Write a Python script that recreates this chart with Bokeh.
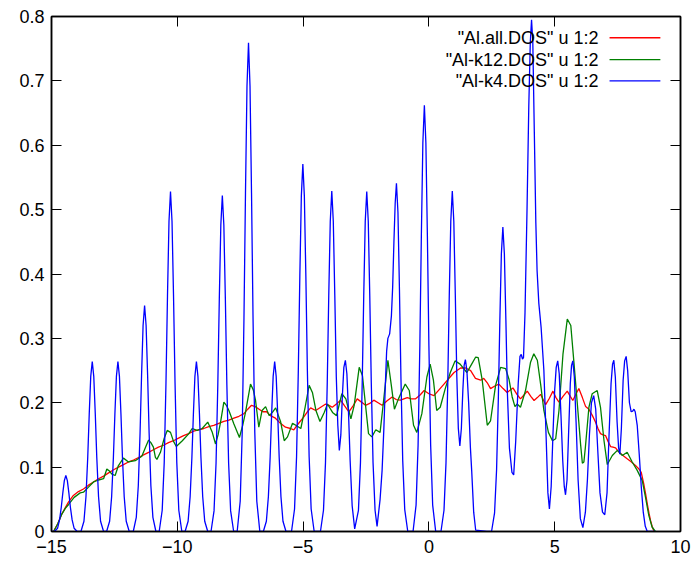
from bokeh.plotting import figure
from bokeh.models import Range1d, FixedTicker, LinearAxis, Label, Arrow
from bokeh.embed import file_html
from bokeh.resources import INLINE

# ---- data ----
series_names = ['"Al.all.DOS" u 1:2', '"Al-k12.DOS" u 1:2', '"Al-k4.DOS" u 1:2']
x_ticks = [-15, -10, -5, 0, 5, 10]
y_ticks = [0, 0.1, 0.2, 0.3, 0.4, 0.5, 0.6, 0.7, 0.8]
y_tick_labels = ["0", "0.1", "0.2", "0.3", "0.4", "0.5", "0.6", "0.7", "0.8"]

red_pts = [
    (-14.92, 0), (-14.75, 0.012), (-14.59, 0.027), (-14.45, 0.037), (-14.32, 0.046), (-14.13, 0.056),
    (-13.93, 0.062), (-13.73, 0.066), (-13.53, 0.072), (-13.33, 0.077), (-13.13, 0.082), (-12.93, 0.086),
    (-12.73, 0.091), (-12.53, 0.096), (-12.34, 0.100), (-12.14, 0.104), (-11.94, 0.108), (-11.74, 0.111),
    (-11.54, 0.115), (-11.34, 0.119), (-11.14, 0.123), (-10.95, 0.127), (-10.75, 0.131), (-10.55, 0.134),
    (-10.35, 0.138), (-10.15, 0.141), (-9.95, 0.145), (-9.75, 0.149), (-9.55, 0.152), (-9.35, 0.156),
    (-9.15, 0.158), (-8.95, 0.160), (-8.75, 0.163), (-8.55, 0.165), (-8.35, 0.168), (-8.15, 0.171),
    (-7.95, 0.173), (-7.75, 0.176), (-7.55, 0.179), (-7.35, 0.183), (-7.2, 0.19), (-7.05, 0.196),
    (-6.9, 0.194), (-6.75, 0.19), (-6.6, 0.186), (-6.45, 0.186), (-6.3, 0.18), (-6.1, 0.176),
    (-5.9, 0.168), (-5.7, 0.162), (-5.5, 0.160), (-5.37, 0.158), (-5.2, 0.167), (-4.97, 0.178),
    (-4.83, 0.186), (-4.7, 0.192), (-4.5, 0.188), (-4.3, 0.193), (-4.1, 0.198), (-3.97, 0.196),
    (-3.84, 0.193), (-3.65, 0.199), (-3.51, 0.204), (-3.35, 0.195), (-3.18, 0.186), (-3.0, 0.196),
    (-2.85, 0.206), (-2.68, 0.201), (-2.52, 0.196), (-2.35, 0.199), (-2.19, 0.204), (-2.02, 0.200),
    (-1.86, 0.196), (-1.66, 0.203), (-1.46, 0.209), (-1.3, 0.205), (-1.13, 0.204), (-0.86, 0.208),
    (-0.7, 0.206), (-0.54, 0.206), (-0.35, 0.212), (-0.19, 0.219), (0.0, 0.214), (0.2, 0.211),
    (0.4, 0.22), (0.6, 0.229), (0.8, 0.238), (1.0, 0.247), (1.26, 0.254), (1.46, 0.254),
    (1.66, 0.25), (1.85, 0.238), (2.06, 0.235), (2.18, 0.238), (2.32, 0.231), (2.45, 0.222),
    (2.62, 0.226), (2.78, 0.229), (2.95, 0.222), (3.11, 0.216), (3.34, 0.223), (3.5, 0.213),
    (3.64, 0.206), (3.78, 0.212), (3.91, 0.218), (4.05, 0.21), (4.18, 0.2035), (4.31, 0.208),
    (4.44, 0.213), (4.54, 0.205), (4.64, 0.197), (4.79, 0.207), (4.93, 0.218), (5.05, 0.208),
    (5.17, 0.201), (5.33, 0.21), (5.5, 0.218), (5.62, 0.21), (5.72, 0.2035), (5.85, 0.214),
    (5.96, 0.222), (6.1, 0.208), (6.23, 0.194), (6.36, 0.19), (6.5, 0.18), (6.62, 0.17),
    (6.72, 0.16), (6.82, 0.152), (6.92, 0.15), (7.02, 0.149), (7.12, 0.14), (7.22, 0.132),
    (7.32, 0.131), (7.42, 0.13), (7.52, 0.125), (7.62, 0.121), (7.75, 0.117), (7.88, 0.113),
    (8.05, 0.108), (8.21, 0.1025), (8.35, 0.097), (8.44, 0.092), (8.54, 0.074), (8.62, 0.057),
    (8.68, 0.043), (8.75, 0.028), (8.81, 0.017), (8.88, 0.007), (8.95, 0.0),
]

green_pts = [
    (-14.92, 0), (-14.75, 0.012), (-14.59, 0.027), (-14.45, 0.036), (-14.32, 0.042), (-14.1, 0.053),
    (-13.86, 0.06), (-13.73, 0.061), (-13.53, 0.069), (-13.33, 0.077), (-13.13, 0.08), (-12.93, 0.082),
    (-12.8, 0.097), (-12.7, 0.094), (-12.6, 0.089), (-12.47, 0.087), (-12.34, 0.1025), (-12.14, 0.114),
    (-11.94, 0.108), (-11.67, 0.11), (-11.41, 0.117), (-11.25, 0.132), (-11.14, 0.142), (-11.05, 0.138),
    (-10.95, 0.131), (-10.87, 0.115), (-10.81, 0.112), (-10.67, 0.123), (-10.52, 0.145), (-10.4, 0.157),
    (-10.27, 0.154), (-10.15, 0.14), (-10.04, 0.132), (-9.8, 0.141), (-9.54, 0.152), (-9.41, 0.16),
    (-9.21, 0.157), (-9.01, 0.16), (-8.79, 0.17), (-8.61, 0.154), (-8.48, 0.136), (-8.38, 0.15),
    (-8.28, 0.17), (-8.15, 0.201), (-8.05, 0.196), (-7.95, 0.188), (-7.75, 0.167), (-7.53, 0.146),
    (-7.4, 0.165), (-7.29, 0.185), (-7.09, 0.229), (-6.98, 0.22), (-6.89, 0.2035), (-6.76, 0.162),
    (-6.63, 0.188), (-6.49, 0.194), (-6.35, 0.18), (-6.22, 0.185), (-6.09, 0.192), (-5.89, 0.17),
    (-5.75, 0.141), (-5.62, 0.147), (-5.42, 0.168), (-5.29, 0.165), (-5.09, 0.16), (-4.92, 0.193),
    (-4.76, 0.227), (-4.63, 0.216), (-4.49, 0.188), (-4.33, 0.171), (-4.16, 0.185), (-4.03, 0.198),
    (-3.83, 0.185), (-3.67, 0.18), (-3.46, 0.214), (-3.3, 0.206), (-3.1, 0.175), (-2.97, 0.196),
    (-2.77, 0.255), (-2.64, 0.242), (-2.51, 0.193), (-2.4, 0.152), (-2.27, 0.147), (-2.11, 0.158),
    (-1.94, 0.154), (-1.8, 0.2035), (-1.63, 0.266), (-1.5, 0.229), (-1.37, 0.19), (-1.21, 0.206),
    (-0.94, 0.229), (-0.78, 0.219), (-0.61, 0.165), (-0.48, 0.154), (-0.28, 0.183), (-0.08, 0.24),
    (0.05, 0.26), (0.18, 0.235), (0.31, 0.188), (0.45, 0.193), (0.65, 0.222), (0.85, 0.247),
    (1.04, 0.265), (1.24, 0.26), (1.51, 0.247), (1.7, 0.26), (1.86, 0.271), (1.96, 0.27),
    (2.12, 0.235), (2.32, 0.165), (2.45, 0.172), (2.65, 0.227), (2.85, 0.255), (3.05, 0.253),
    (3.18, 0.237), (3.31, 0.209), (3.42, 0.194), (3.51, 0.198), (3.64, 0.193), (3.84, 0.219),
    (4.04, 0.263), (4.17, 0.276), (4.31, 0.266), (4.44, 0.229), (4.57, 0.188), (4.75, 0.154),
    (4.91, 0.141), (5.04, 0.144), (5.17, 0.188), (5.33, 0.276), (5.5, 0.33), (5.64, 0.32),
    (5.77, 0.26), (5.9, 0.198), (6.03, 0.135), (6.1, 0.106), (6.16, 0.108), (6.22, 0.131),
    (6.36, 0.193), (6.49, 0.214), (6.69, 0.219), (6.82, 0.193), (6.96, 0.141), (7.09, 0.104),
    (7.29, 0.118), (7.49, 0.126), (7.69, 0.118), (7.88, 0.123), (8.08, 0.108), (8.28, 0.095),
    (8.48, 0.079), (8.61, 0.053), (8.74, 0.025), (8.87, 0.007), (9.0, 0),
]

blue_pts = [
    (-15.0, 0), (-14.88, 0), (-14.76, 0.005), (-14.68, 0.018), (-14.61, 0.038), (-14.55, 0.06),
    (-14.49, 0.079), (-14.43, 0.087), (-14.37, 0.079), (-14.31, 0.06), (-14.25, 0.038), (-14.18, 0.018),
    (-14.1, 0.005), (-13.98, 0),
    (-13.83, 0), (-13.71, 0.016), (-13.63, 0.054), (-13.56, 0.115), (-13.50, 0.183), (-13.44, 0.241),
    (-13.38, 0.264), (-13.32, 0.241), (-13.26, 0.183), (-13.20, 0.115), (-13.13, 0.054), (-13.05, 0.016),
    (-12.93, 0),
    (-12.81, 0), (-12.69, 0.016), (-12.61, 0.054), (-12.54, 0.115), (-12.48, 0.183), (-12.42, 0.241),
    (-12.36, 0.264), (-12.30, 0.241), (-12.24, 0.183), (-12.18, 0.115), (-12.11, 0.054), (-12.03, 0.016),
    (-11.91, 0),
    (-11.75, 0), (-11.63, 0.022), (-11.55, 0.071), (-11.48, 0.153), (-11.42, 0.243), (-11.36, 0.320),
    (-11.30, 0.351), (-11.24, 0.320), (-11.18, 0.243), (-11.12, 0.153), (-11.05, 0.071), (-10.97, 0.022),
    (-10.85, 0),
    (-10.72, 0), (-10.60, 0.033), (-10.52, 0.107), (-10.45, 0.231), (-10.39, 0.366), (-10.33, 0.482),
    (-10.27, 0.528), (-10.21, 0.482), (-10.15, 0.366), (-10.09, 0.231), (-10.02, 0.107), (-9.94, 0.033),
    (-9.82, 0),
    (-9.69, 0), (-9.57, 0.016), (-9.49, 0.054), (-9.42, 0.115), (-9.36, 0.183), (-9.30, 0.241),
    (-9.24, 0.264), (-9.18, 0.241), (-9.12, 0.183), (-9.06, 0.115), (-8.99, 0.054), (-8.91, 0.016),
    (-8.79, 0),
    (-8.66, 0), (-8.54, 0.032), (-8.46, 0.106), (-8.39, 0.228), (-8.33, 0.362), (-8.27, 0.476),
    (-8.21, 0.522), (-8.15, 0.476), (-8.09, 0.362), (-8.03, 0.228), (-7.96, 0.106), (-7.88, 0.032),
    (-7.76, 0),
    (-7.62, 0), (-7.50, 0.047), (-7.42, 0.154), (-7.35, 0.332), (-7.29, 0.526), (-7.23, 0.692),
    (-7.17, 0.759), (-7.11, 0.692), (-7.05, 0.526), (-6.99, 0.332), (-6.92, 0.154), (-6.84, 0.047),
    (-6.72, 0),
    (-6.58, 0), (-6.46, 0.016), (-6.38, 0.054), (-6.31, 0.115), (-6.25, 0.183), (-6.19, 0.241),
    (-6.13, 0.264), (-6.07, 0.241), (-6.01, 0.183), (-5.95, 0.115), (-5.88, 0.054), (-5.80, 0.016),
    (-5.68, 0),
    (-5.46, 0), (-5.34, 0.035), (-5.26, 0.116), (-5.19, 0.250), (-5.13, 0.396), (-5.07, 0.521),
    (-5.01, 0.571), (-4.95, 0.521), (-4.89, 0.396), (-4.83, 0.250), (-4.76, 0.116), (-4.68, 0.035),
    (-4.56, 0),
    (-4.31, 0), (-4.19, 0.033), (-4.11, 0.107), (-4.04, 0.231), (-3.98, 0.367), (-3.92, 0.482),
    (-3.86, 0.529), (-3.80, 0.482), (-3.74, 0.367), (-3.68, 0.24), (-3.62, 0.165), (-3.56, 0.126),
    (-3.50, 0.15), (-3.44, 0.21), (-3.38, 0.255), (-3.32, 0.266), (-3.26, 0.245), (-3.20, 0.19),
    (-3.13, 0.11), (-3.05, 0.04), (-2.95, 0.004),
    (-2.80, 0.033), (-2.72, 0.107), (-2.65, 0.231), (-2.59, 0.366), (-2.53, 0.482), (-2.47, 0.528),
    (-2.41, 0.482), (-2.35, 0.366), (-2.29, 0.231), (-2.22, 0.107), (-2.14, 0.033), (-2.06, 0.008),
    (-1.94, 0.05), (-1.86, 0.095), (-1.79, 0.16), (-1.73, 0.229), (-1.68, 0.28), (-1.63, 0.30),
    (-1.56, 0.307), (-1.49, 0.335), (-1.44, 0.38), (-1.39, 0.45), (-1.34, 0.51), (-1.29, 0.541),
    (-1.23, 0.496), (-1.17, 0.375), (-1.11, 0.236), (-1.04, 0.11), (-0.96, 0.034), (-0.84, 0),
    (-0.63, 0), (-0.51, 0.041), (-0.43, 0.134), (-0.36, 0.289), (-0.30, 0.459), (-0.24, 0.604),
    (-0.18, 0.662), (-0.12, 0.604), (-0.06, 0.459), (0.00, 0.289), (0.07, 0.134), (0.15, 0.041),
    (0.27, 0),
    (0.48, 0), (0.60, 0.033), (0.68, 0.107), (0.75, 0.231), (0.81, 0.367), (0.87, 0.482),
    (0.93, 0.529), (0.99, 0.482), (1.05, 0.367), (1.11, 0.24), (1.17, 0.16), (1.23, 0.133),
    (1.29, 0.16), (1.35, 0.22), (1.40, 0.258), (1.45, 0.267), (1.51, 0.25), (1.58, 0.2),
    (1.65, 0.13), (1.70, 0.095), (1.78, 0.03), (1.86, 0.002), (2.30, 0),
    (2.49, 0), (2.61, 0.029), (2.69, 0.096), (2.76, 0.207), (2.82, 0.328), (2.88, 0.431),
    (2.94, 0.473), (3.00, 0.431), (3.06, 0.328), (3.12, 0.215), (3.20, 0.13), (3.30, 0.092),
    (3.37, 0.088), (3.45, 0.14), (3.55, 0.23), (3.62, 0.272), (3.67, 0.275), (3.72, 0.268),
    (3.76, 0.27), (3.82, 0.34), (3.90, 0.5), (3.97, 0.66), (4.03, 0.76), (4.08, 0.795),
    (4.13, 0.76), (4.19, 0.62), (4.25, 0.48), (4.30, 0.405), (4.37, 0.354), (4.46, 0.317),
    (4.57, 0.25), (4.66, 0.146), (4.73, 0.06), (4.79, 0.035), (4.86, 0.07), (4.93, 0.15),
    (5.00, 0.22), (5.06, 0.255), (5.12, 0.265), (5.18, 0.245), (5.25, 0.18), (5.32, 0.11),
    (5.38, 0.07), (5.43, 0.057), (5.49, 0.08), (5.55, 0.15), (5.62, 0.23), (5.67, 0.258),
    (5.72, 0.265), (5.78, 0.24), (5.85, 0.17), (5.93, 0.08), (6.02, 0.02), (6.12, 0.006),
    (6.22, 0.03), (6.30, 0.08), (6.38, 0.15), (6.46, 0.2), (6.55, 0.211), (6.63, 0.19),
    (6.72, 0.12), (6.80, 0.06), (6.90, 0.03), (6.99, 0.026), (7.08, 0.06), (7.16, 0.15),
    (7.24, 0.23), (7.30, 0.26), (7.35, 0.266), (7.41, 0.24), (7.48, 0.17), (7.54, 0.13),
    (7.59, 0.12), (7.65, 0.16), (7.72, 0.235), (7.78, 0.265), (7.84, 0.272), (7.90, 0.25),
    (7.97, 0.2), (8.04, 0.186), (8.10, 0.187), (8.15, 0.19), (8.20, 0.186), (8.28, 0.165),
    (8.36, 0.12), (8.44, 0.07), (8.52, 0.03), (8.60, 0.008), (8.68, 0), (9.0, 0),
]

series_colors = ["#ff0000", "#008000", "#0000ff"]

# ---- figure ----
FONT = "Liberation Sans"
p = figure(width=694, height=565, output_backend="svg", toolbar_location=None,
           x_range=Range1d(-15, 10), y_range=Range1d(0, 0.8),
           min_border_left=51, min_border_right=14, min_border_top=16, min_border_bottom=34)
p.background_fill_color = "white"
p.border_fill_color = "white"
p.outline_line_color = "black"
p.outline_line_width = 1.5
p.grid.visible = False

for ax in (p.xaxis[0], p.yaxis[0]):
    ax.major_tick_in = 10
    ax.major_tick_out = 0
    ax.minor_tick_in = 0
    ax.minor_tick_out = 0
    ax.axis_line_color = "black"
    ax.axis_line_width = 1.5
    ax.major_tick_line_color = "black"
    ax.major_label_text_font = FONT
    ax.major_label_text_font_size = "18px"
    ax.major_label_text_color = "black"

p.xaxis[0].ticker = FixedTicker(ticks=x_ticks)
p.yaxis[0].ticker = FixedTicker(ticks=y_ticks)
p.yaxis[0].major_label_overrides = {t: s for t, s in zip(y_ticks, y_tick_labels)}
p.xaxis[0].major_label_standoff = 8
p.yaxis[0].major_label_standoff = 7

# mirrored ticks on top and right (no labels drawn)
top = LinearAxis(ticker=FixedTicker(ticks=x_ticks))
right = LinearAxis(ticker=FixedTicker(ticks=y_ticks))
for ax in (top, right):
    ax.major_tick_in = 10
    ax.major_tick_out = 0
    ax.minor_tick_in = 0
    ax.minor_tick_out = 0
    ax.major_label_text_color = None
    ax.major_label_text_font_size = "1px"
    ax.major_label_standoff = 0
    ax.axis_line_color = "black"
    ax.axis_line_width = 1.5
p.add_layout(top, "above")
p.add_layout(right, "right")

# ---- curves (drawn in gnuplot order: red, green, blue on top) ----
for pts, col in zip([red_pts, green_pts, blue_pts], series_colors):
    xs = [a for a, b in pts]
    ys = [b for a, b in pts]
    p.line(xs, ys, line_color=col, line_width=1.3)

# ---- legend (gnuplot style: right-aligned text, sample line on the right) ----
leg_y = [0.767, 0.733, 0.7]
for name, col, yy in zip(series_names, series_colors, leg_y):
    p.add_layout(Label(x=6.74, y=yy, text=name, text_align="right", text_baseline="middle",
                       text_font=FONT, text_font_size="18px", text_color="black"))
    p.add_layout(Arrow(end=None, x_start=7.18, y_start=yy, x_end=9.2, y_end=yy,
                       line_color=col, line_width=1.3))

open("out.html", "w").write(file_html(p, INLINE))
